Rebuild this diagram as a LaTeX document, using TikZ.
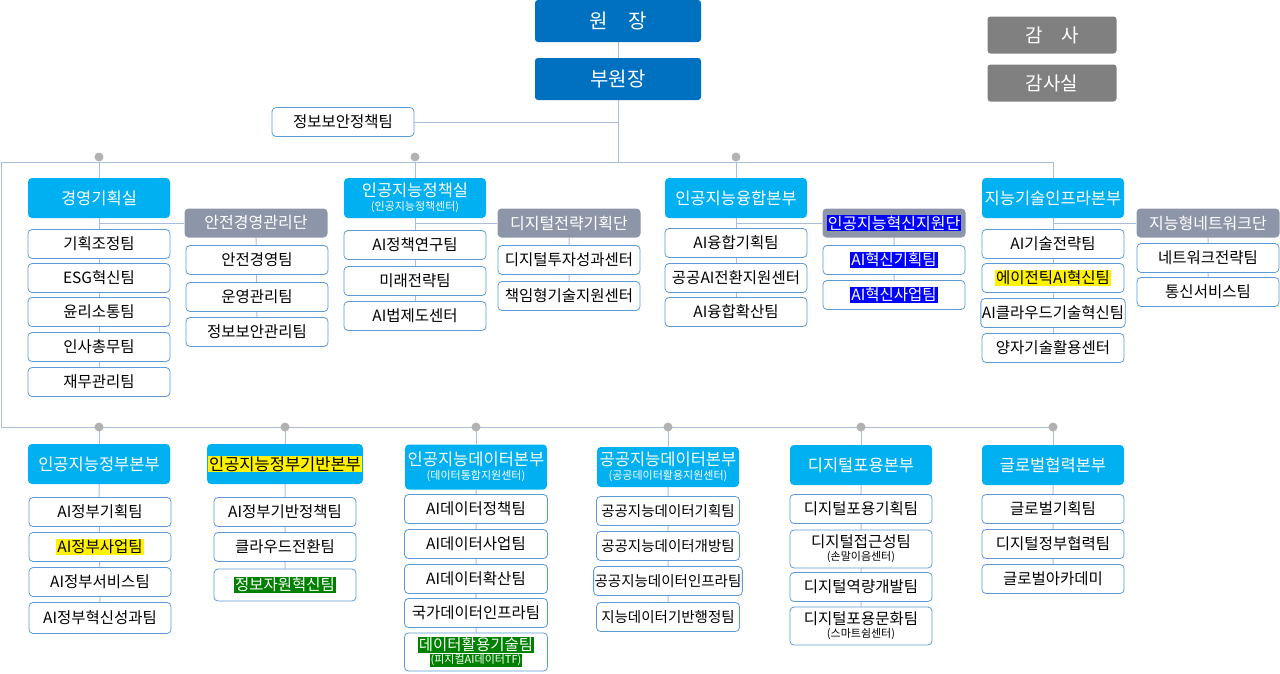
\documentclass[tikz,border=0pt]{standalone}
\usepackage{fontspec}
\setmainfont{Noto Sans CJK KR}
\usetikzlibrary{backgrounds}
\definecolor{topblue}{RGB}{0,112,192}
\definecolor{headcyan}{RGB}{0,176,240}
\definecolor{unitgray}{RGB}{141,150,168}
\definecolor{audgray}{RGB}{128,128,128}
\definecolor{linec}{RGB}{170,190,220}
\definecolor{teamline}{RGB}{91,155,213}
\definecolor{hlgreen}{RGB}{0,128,0}
\newcommand\hl[3]{{\setlength\fboxsep{1pt}\colorbox{#1}{\color{#2}#3}}}
\newcommand\sub[1]{\\[-4pt]{\fontsize{11}{12}\selectfont #1}}
\tikzset{
  top/.style={rectangle,rounded corners=3pt,fill=topblue,text=white,minimum width=166,minimum height=42,font=\fontsize{20}{22}\selectfont},
  aud/.style={rectangle,rounded corners=3pt,fill=audgray,text=white,minimum width=129,minimum height=37,font=\fontsize{19}{21}\selectfont},
  head/.style={rectangle,rounded corners=4pt,fill=headcyan,text=white,minimum width=142,minimum height=40,align=center,inner sep=1pt,font=\fontsize{16.5}{18}\selectfont},
  unit/.style={rectangle,rounded corners=4pt,fill=unitgray,text=white,minimum width=143,minimum height=29,align=center,inner sep=1pt,font=\fontsize{16}{18}\selectfont},
  team/.style={rectangle,rounded corners=4pt,fill=white,draw=teamline,line width=0.8,minimum width=142,minimum height=29,align=center,inner sep=1pt,font=\fontsize{15.5}{17}\selectfont},
  link/.style={draw=linec,line width=1},
  dot/.style={circle,fill=gray!60,inner sep=0,minimum size=9}
}
\begin{document}
\begin{tikzpicture}[x=1pt,y=-1pt]
\useasboundingbox (0,0) rectangle (1280,673);
% top
\node[top] (dir) at (618,21) {원\quad 장};
\node[top] (vice) at (618,79) {부원장};
\node[aud] (aud) at (1052,35) {감\quad 사};
\node[aud] (audo) at (1052,83) {감사실};
\node[team] (sec) at (343,122) {정보보안정책팀};
\coordinate (hub) at (618,162);
\coordinate (lhub) at (1,162);
\coordinate (rhub) at (1053,162);
\coordinate (lhub2) at (1,427);
\coordinate (rhub2) at (1053,427);
% upper columns
\node[head] (h1) at (99,198) {경영기획실};
\node[unit] (u1) at (256,223) {안전경영관리단};
\node[head] (h2) at (415,198) {인공지능정책실\sub{(인공지능정책센터)}};
\node[unit] (u2) at (569,223) {디지털전략기획단};
\node[head] (h3) at (736,198) {인공지능융합본부};
\node[unit] (u3) at (894,223) {\hl{blue}{white}{인공지능혁신지원단}};
\node[head] (h4) at (1053,198) {지능기술인프라본부};
\node[unit] (u4) at (1208,223) {지능형네트워크단};
\foreach \t/\y [count=\i] in {기획조정팀/244,ESG혁신팀/278,윤리소통팀/312,인사총무팀/347,재무관리팀/382}
  \node[team] (t1\i) at (99,\y) {\t};
\foreach \t/\y [count=\i] in {안전경영팀/260,운영관리팀/297,정보보안관리팀/332}
  \node[team] (s1\i) at (257,\y) {\t};
\foreach \t/\y [count=\i] in {AI정책연구팀/245,미래전략팀/281,AI법제도센터/316}
  \node[team] (t2\i) at (415,\y) {\t};
\foreach \t/\y [count=\i] in {디지털투자성과센터/260,책임형기술지원센터/296}
  \node[team] (s2\i) at (569,\y) {\t};
\foreach \t/\y [count=\i] in {AI융합기획팀/243,공공AI전환지원센터/278,AI융합확산팀/312}
  \node[team] (t3\i) at (736,\y) {\t};
\node[team] (s31) at (894,260) {\hl{blue}{white}{AI혁신기획팀}};
\node[team] (s32) at (894,295) {\hl{blue}{white}{AI혁신사업팀}};
\node[team] (t41) at (1053,244) {AI기술전략팀};
\node[team] (t42) at (1053,278) {\hl{yellow}{black}{에이전틱AI혁신팀}};
\node[team] (t43) at (1053,313) {AI클라우드기술혁신팀};
\node[team] (t44) at (1053,348) {양자기술활용센터};
\node[team] (s41) at (1208,258) {네트워크전략팀};
\node[team] (s42) at (1208,292) {통신서비스팀};
% lower columns
\node[head] (h5) at (99,464) {인공지능정부본부};
\node[head] (h6) at (285,464) {\hl{yellow}{black}{인공지능정부기반본부}};
\node[head,minimum height=45] (h7) at (476,467) {인공지능데이터본부\sub{(데이터통합지원센터)}};
\node[head] (h8) at (668,467) {공공지능데이터본부\sub{(공공데이터활용지원센터)}};
\node[head] (h9) at (861,465) {디지털포용본부};
\node[head] (h10) at (1053,465) {글로벌협력본부};
\node[team] (t51) at (100,512) {AI정부기획팀};
\node[team] (t52) at (100,547) {\hl{yellow}{black}{AI정부사업팀}};
\node[team] (t53) at (100,582) {AI정부서비스팀};
\node[team,minimum height=31] (t54) at (100,618) {AI정부혁신성과팀};
\node[team] (t61) at (285,512) {AI정부기반정책팀};
\node[team] (t62) at (285,547) {클라우드전환팀};
\node[team,minimum height=32] (t63) at (285,585) {\hl{hlgreen}{white}{정보자원혁신팀}};
\foreach \t/\y [count=\i] in {AI데이터정책팀/509,AI데이터사업팀/544,AI데이터확산팀/579,국가데이터인프라팀/613}
  \node[team,minimum width=143] (t7\i) at (476,\y) {\t};
\node[team,minimum width=143,minimum height=38] (t75) at (476,652) {\hl{hlgreen}{white}{데이터활용기술팀}\sub{\hl{hlgreen}{white}{(피지컬AI데이터TF)}}};
\foreach \t/\y [count=\i] in {공공지능데이터기획팀/511,공공지능데이터개방팀/546,공공지능데이터인프라팀/581,지능데이터기반행정팀/617}
  \node[team,minimum width=143,font=\fontsize{14.5}{16}\selectfont] (t8\i) at (668,\y) {\t};
\node[team] (t91) at (861,509) {디지털포용기획팀};
\node[team,minimum height=38] (t92) at (861,549) {디지털접근성팀\sub{(손말이음센터)}};
\node[team] (t93) at (861,587) {디지털역량개발팀};
\node[team,minimum height=38] (t94) at (861,626) {디지털포용문화팀\sub{(스마트쉼센터)}};
\node[team] (t101) at (1053,509) {글로벌기획팀};
\node[team] (t102) at (1053,544) {디지털정부협력팀};
\node[team] (t103) at (1053,579) {글로벌아카데미};
\begin{scope}[on background layer]
  \draw[link] (dir) -- (vice) -- (hub);
  \draw[link] (sec) -| (vice);
  \draw[link] (lhub) -- (rhub) (lhub) -- (lhub2) -- (rhub2);
  \foreach \h in {h1,h2,h3,h4} \draw[link] (\h) -- (\h |- lhub);
  \foreach \h in {h5,h6,h7,h8,h9,h10} \draw[link] (\h) -- (\h |- lhub2);
  \draw[link] (h1) -- (t15) (h2) -- (t23) (h3) -- (t33) (h4) -- (t44);
  \draw[link] (u1) -- (s13) (u2) -- (s22) (u3) -- (s32) (u4) -- (s42);
  \foreach \h/\u in {h1/u1,h2/u2,h3/u3,h4/u4} \draw[link] (\h |- \u) -- (\u);
  \draw[link] (h5) -- (t54) (h6) -- (t63) (h7) -- (t75) (h8) -- (t84) (h9) -- (t94) (h10) -- (t103);
\end{scope}
\foreach \x in {99,415,736} \node[dot] (d\x) at (\x,157) {};
\foreach \x in {99,285,476,668,861,1053} \node[dot] (e\x) at (\x,427) {};
\end{tikzpicture}
\end{document}
